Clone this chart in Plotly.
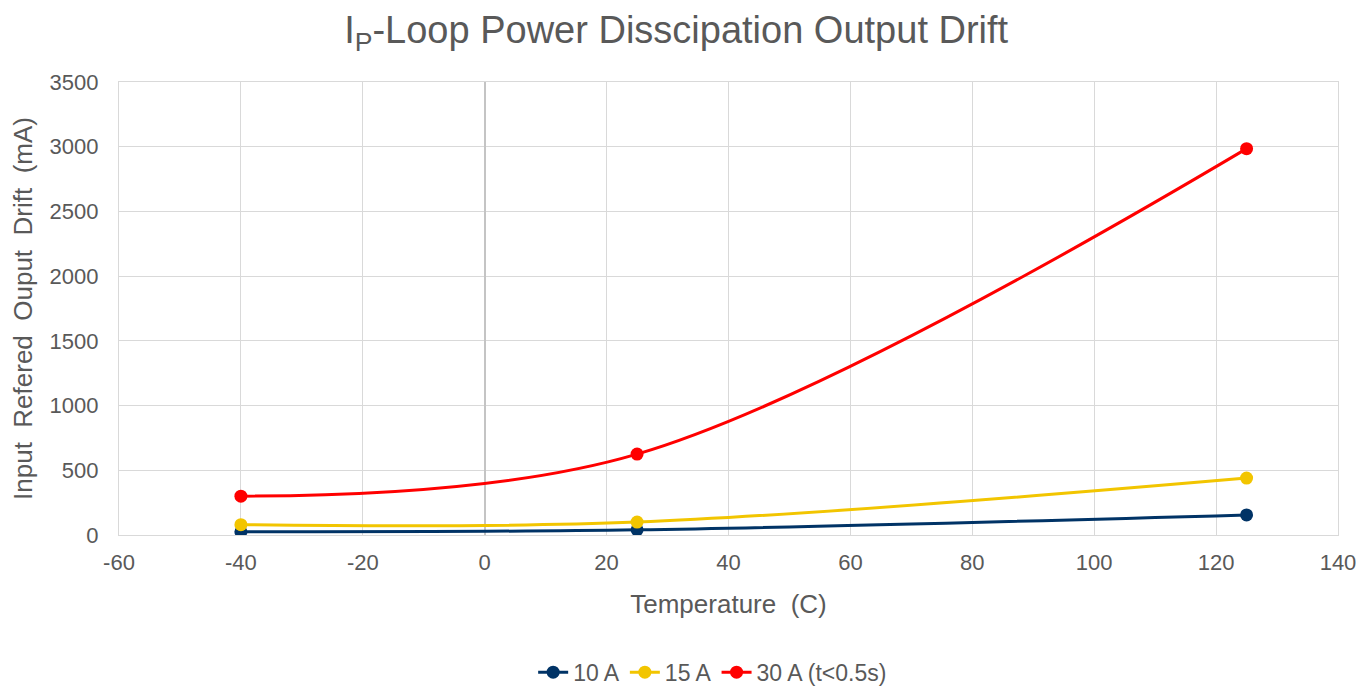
import plotly.graph_objects as go

temps = [-40, 25, 125]
drift_10a = [25, 40, 155]
drift_15a = [80, 100, 440]
drift_30a = [300, 625, 2985]

series_names = ["10 A", "15 A", "30 A (t<0.5s)"]
series_colors = ["#003366", "#F2C500", "#FF0000"]

x_ticks = [-60, -40, -20, 0, 20, 40, 60, 80, 100, 120, 140]
x_tick_text = [str(v) for v in x_ticks]

font_family = "Liberation Sans, Arial, sans-serif"
grey = "#595959"

fig = go.Figure()
for name, vals, col in zip(series_names, [drift_10a, drift_15a, drift_30a], series_colors):
    fig.add_trace(go.Scatter(
        x=temps, y=vals, name=name, mode="lines+markers",
        line=dict(color=col, width=3, shape="spline", smoothing=1),
        marker=dict(color=col, size=13),
    ))

fig.update_layout(
    width=1372, height=689,
    paper_bgcolor="white", plot_bgcolor="white",
    margin=dict(l=111, r=42, t=74, b=162, autoexpand=False),
    font=dict(family=font_family, color=grey, size=22),
    title=dict(text="I<sub>P</sub>-Loop Power Disscipation Output Drift",
               x=0.487, xanchor="center", y=0.969, yanchor="middle",
               font=dict(size=38, color=grey)),
    showlegend=True,
    legend=dict(orientation="h", x=0.487, xanchor="center",
                yref="container", y=0.036, yanchor="middle",
                font=dict(size=23, color=grey)),
)
fig.update_xaxes(
    range=[-60, 140], tickmode="array", tickvals=x_ticks, ticktext=x_tick_text,
    automargin=False,
    showgrid=True, gridcolor="#D9D9D9", gridwidth=1.3,
    zeroline=True, zerolinecolor="#C4C4C4", zerolinewidth=1.5,
    showline=True, linecolor="#D9D9D9", linewidth=1.3, mirror=True,
    ticks="", ticklabelstandoff=7, tickfont=dict(size=22, color=grey),
    title=dict(text="Temperature  (C)", font=dict(size=26, color=grey), standoff=21),
)
fig.update_yaxes(
    range=[0, 3500], dtick=500, automargin=False,
    showgrid=True, gridcolor="#D9D9D9", gridwidth=1.3,
    zeroline=False,
    showline=True, linecolor="#D9D9D9", linewidth=1.3, mirror=True,
    ticks="", ticklabelstandoff=15, tickfont=dict(size=22, color=grey),
    title=dict(text="Input  Refered  Ouput  Drift  (mA)", font=dict(size=26, color=grey), standoff=16),
)

fig.write_html("out.html")
